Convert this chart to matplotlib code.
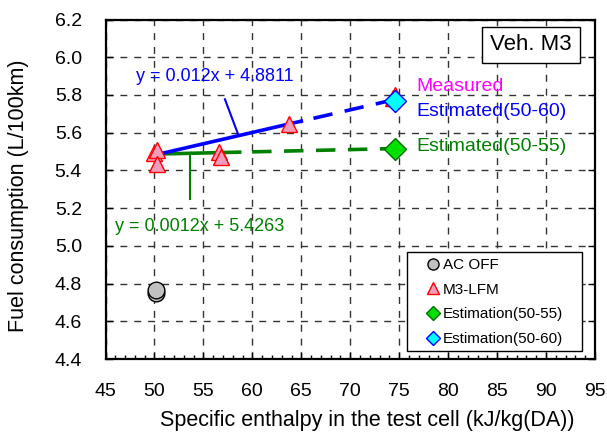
import matplotlib
matplotlib.use("Agg")
import matplotlib.pyplot as plt
from matplotlib.lines import Line2D
from matplotlib.patches import Rectangle

plt.rcParams['font.family'] = ['Liberation Sans', 'DejaVu Sans']
plt.rcParams['lines.scale_dashes'] = False

# ---- data ----
ac_off_x = [50.2, 50.2]
ac_off_y = [4.750, 4.768]
lfm_x = [50.0, 50.3, 50.3, 56.6, 56.8, 63.7, 74.4, 74.6]
lfm_y = [5.490, 5.510, 5.435, 5.495, 5.470, 5.645, 5.785, 5.800]
est55_x = [74.6]
est55_y = [5.515]
est60_x = [74.6]
est60_y = [5.770]
fit60_slope, fit60_icpt = 0.012, 4.8811
fit55_slope, fit55_icpt = 0.0012, 5.4263
fit60_solid = [50.0, 65.0]
fit60_dash = [65.0, 74.6]
fit55_solid = [50.0, 58.7]
fit55_dash = [58.7, 74.6]

xticks = [45, 50, 55, 60, 65, 70, 75, 80, 85, 90, 95]
yticks = [4.4, 4.6, 4.8, 5.0, 5.2, 5.4, 5.6, 5.8, 6.0, 6.2]

fig = plt.figure(figsize=(6.07, 4.32), dpi=100)
L, R, T, B = 105.5 / 607, 595 / 607, 1 - 19.5 / 432, 1 - 359 / 432
ax = fig.add_axes([L, B, R - L, T - B])

ax.set_xlim(45, 95)
ax.set_ylim(4.4, 6.2)
ax.set_xticks(xticks)
ax.set_yticks(yticks)
ax.set_yticklabels([f"{v:.1f}" for v in yticks])
ax.set_xticks([x for x in range(45, 96) if x % 5 != 0], minor=True)
ax.tick_params(which='both', direction='in', top=False, right=True, labelsize=14)
ax.tick_params(axis='x', which='major', pad=17)
ax.tick_params(axis='y', which='major', pad=17)
ax.tick_params(which='major', length=5, width=1)
ax.tick_params(which='minor', length=3, width=1)
for s in ax.spines.values():
    s.set_linewidth(1.6)
ax.grid(True, which='major', color='0.2', linestyle=(0, (5, 5)), linewidth=1.0)
ax.set_axisbelow(True)

def fit(xs, m, b):
    return [m * x + b for x in xs]

# fit lines
ax.plot(fit55_solid, fit(fit55_solid, fit55_slope, fit55_icpt), color='#008000', lw=2.6, zorder=3)
ax.plot(fit55_dash, fit(fit55_dash, fit55_slope, fit55_icpt), color='#008000', lw=2.6,
        linestyle=(14, (14, 9)), zorder=3)
ax.plot(fit60_solid, fit(fit60_solid, fit60_slope, fit60_icpt), color='#0000FF', lw=2.6, zorder=3)
ax.plot(fit60_dash, fit(fit60_dash, fit60_slope, fit60_icpt), color='#0000FF', lw=2.6,
        linestyle=(14, (14, 9)), zorder=3)

# markers
ax.plot(ac_off_x, ac_off_y, 'o', ms=12, mfc='#C0C0C0', mec='black', mew=1.0, zorder=4)
ax.plot(lfm_x, lfm_y, '^', ms=12, mfc='#F49CBE', mec='#FF0000', mew=1.0, zorder=4)
ax.plot(est55_x, est55_y, 'D', ms=11, mfc='#00E000', mec='#007000', mew=1.0, zorder=5)
ax.plot(est60_x, est60_y, 'D', ms=11, mfc='#00FFFF', mec='#0000FF', mew=1.0, zorder=5)

# leader lines
ax.plot([57.2, 58.6], [5.777, 5.584], color='#0000FF', lw=1.5, zorder=3)
ax.plot([53.6, 53.6], [5.49, 5.25], color='#008000', lw=1.5, zorder=3)

# annotations
ax.text(48.1, 5.897, "y = 0.012x + 4.8811", color='#0000FF', fontsize=13, va='center', ha='left')
ax.text(45.97, 5.101, "y = 0.0012x + 5.4263", color='#008000', fontsize=13, va='center', ha='left')
ax.text(76.8, 5.844, "Measured", color='#FF00FF', fontsize=14, va='center', ha='left')
ax.text(76.8, 5.711, "Estimated(50-60)", color='#0000FF', fontsize=14, va='center', ha='left')
ax.text(76.8, 5.526, "Estimated(50-55)", color='#008000', fontsize=14, va='center', ha='left')
ax.text(88.46, 6.065, "Veh. M3", color='black', fontsize=16, va='center', ha='center',
        bbox=dict(boxstyle='square,pad=0.35', fc='white', ec='black', lw=1.0))

ax.set_xlabel("Specific enthalpy in the test cell (kJ/kg(DA))", fontsize=15.5)
ax.set_ylabel("Fuel consumption (L/100km)", fontsize=15.5)
ax.xaxis.set_label_coords(0.535, (359 - 410) / 339.5)
ax.yaxis.set_label_coords((29 - 105.5) / 489.5, (359 - 196) / 339.5)

# legend frame
ax.add_patch(Rectangle((0.616, 0.0236), 0.9734 - 0.616, 0.315 - 0.0236,
                       transform=ax.transAxes, fc='white', ec='black', lw=1.0, zorder=6))
handles = [
    Line2D([], [], ls='none', marker='o', ms=8, mfc='#C0C0C0', mec='black', mew=1.0),
    Line2D([], [], ls='none', marker='^', ms=9, mfc='#F49CBE', mec='#FF0000', mew=1.0),
    Line2D([], [], ls='none', marker='D', ms=7, mfc='#00E000', mec='#007000', mew=1.0),
    Line2D([], [], ls='none', marker='D', ms=7, mfc='#00FFFF', mec='#0000FF', mew=1.0),
]
labels = ["AC OFF", "M3-LFM", "Estimation(50-55)", "Estimation(50-60)"]
leg = ax.legend(handles, labels, loc='upper left',
                bbox_to_anchor=((425 - 105.5) / 489.5, (359 - 258) / 339.5),
                borderaxespad=0, borderpad=0, fontsize=11, frameon=False,
                handlelength=1.0, handletextpad=0.18, labelspacing=0.7)
leg.set_zorder(7)

fig.savefig("out.png", dpi=100)
